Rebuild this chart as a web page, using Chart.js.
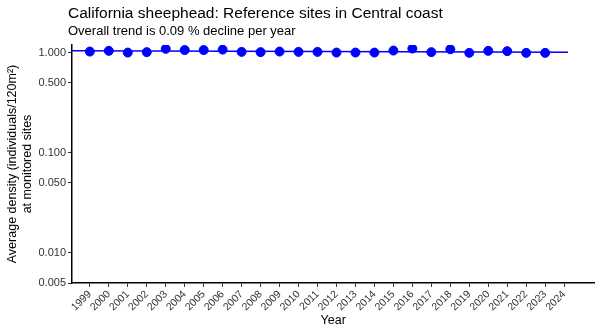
<!DOCTYPE html>
<html>
<head>
<meta charset="utf-8">
<script src="https://cdn.jsdelivr.net/npm/chart.js@4.4.0/dist/chart.umd.min.js"></script>
<style>
  body { margin: 0; background: #fff; font-family: "Liberation Sans", Arial, sans-serif; }
  #wrap { position: relative; width: 600px; height: 333px; }
  #title { position: absolute; left: 68px; top: 4px; font-size: 15.5px; color: #000; }
  #subtitle { position: absolute; left: 68px; top: 23px; font-size: 13px; color: #000; }
</style>
</head>
<body>
<div id="wrap">
  <canvas id="chart" width="600" height="333"></canvas>
  <div id="title">California sheephead: Reference sites in Central coast</div>
  <div id="subtitle">Overall trend is 0.09 % decline per year</div>
</div>
<script>
// Datos
const years = [1999, 2000, 2001, 2002, 2003, 2004, 2005, 2006, 2007, 2008, 2009, 2010, 2011,
               2012, 2013, 2014, 2015, 2016, 2017, 2018, 2019, 2020, 2021, 2022, 2023];
const density = [1.023, 1.04, 1.0, 1.01, 1.09, 1.06, 1.06, 1.07, 1.016, 1.01, 1.023, 1.016, 1.016,
                 1.0, 1.0, 1.0, 1.047, 1.096, 1.01, 1.08, 0.993, 1.04, 1.033, 0.993, 0.993];
const trendYears = [1998, 2024.2];
const trendValues = [1.04, 1.01];
const xTicks = [1999, 2000, 2001, 2002, 2003, 2004, 2005, 2006, 2007, 2008, 2009, 2010, 2011,
                2012, 2013, 2014, 2015, 2016, 2017, 2018, 2019, 2020, 2021, 2022, 2023, 2024];
const yTicks = [0.005, 0.01, 0.05, 0.1, 0.5, 1];

const font = 'Liberation Sans, Arial, sans-serif';

new Chart(document.getElementById('chart'), {
    type: 'scatter',
    data: {
        datasets: [
            {
                type: 'line',
                data: trendYears.map((x, i) => ({ x: x, y: trendValues[i] })),
                borderColor: '#0000FF',
                borderWidth: 1.5,
                pointRadius: 0,
                fill: false
            },
            {
                data: years.map((x, i) => ({ x: x, y: density[i] })),
                backgroundColor: '#0000FF',
                borderColor: '#0000FF',
                pointRadius: 4.5,
                pointHoverRadius: 4.5
            }
        ]
    },
    options: {
        responsive: false,
        animation: false,
        layout: { padding: { top: 45, right: 3, left: 0, bottom: 0 } },
        plugins: {
            legend: { display: false },
            tooltip: { enabled: false }
        },
        scales: {
            x: {
                type: 'linear',
                min: 1998.06,
                max: 2025.6,
                afterFit: scale => { scale.height = 50; },
                afterBuildTicks: scale => { scale.ticks = xTicks.map(v => ({ value: v })); },
                grid: { drawOnChartArea: false, drawTicks: true, tickLength: 4, color: '#333' },
                border: { display: true, color: '#000', width: 1.5 },
                ticks: {
                    minRotation: 45,
                    maxRotation: 45,
                    autoSkip: false,
                    padding: 1,
                    color: '#333',
                    font: { family: font, size: 10.5 },
                    callback: v => String(v)
                },
                title: {
                    display: true,
                    text: 'Year',
                    color: '#000',
                    font: { family: font, size: 12.5 },
                    padding: { top: 0, bottom: 5 }
                }
            },
            y: {
                type: 'logarithmic',
                min: 0.005,
                max: 1.19,
                afterFit: scale => { scale.width = 72; },
                afterBuildTicks: scale => { scale.ticks = yTicks.map(v => ({ value: v })); },
                grid: { drawOnChartArea: false, drawTicks: true, tickLength: 4, color: '#333' },
                border: { display: true, color: '#000', width: 1.5 },
                ticks: {
                    padding: 2,
                    color: '#333',
                    font: { family: font, size: 11 },
                    callback: v => Number(v).toFixed(3)
                },
                title: {
                    display: true,
                    text: ['Average density (individuals/120m²)', 'at monitored sites'],
                    color: '#000',
                    font: { family: font, size: 12.5, lineHeight: 1.2 },
                    padding: { top: 5, bottom: 0 }
                }
            }
        }
    }
});
</script>
</body>
</html>
